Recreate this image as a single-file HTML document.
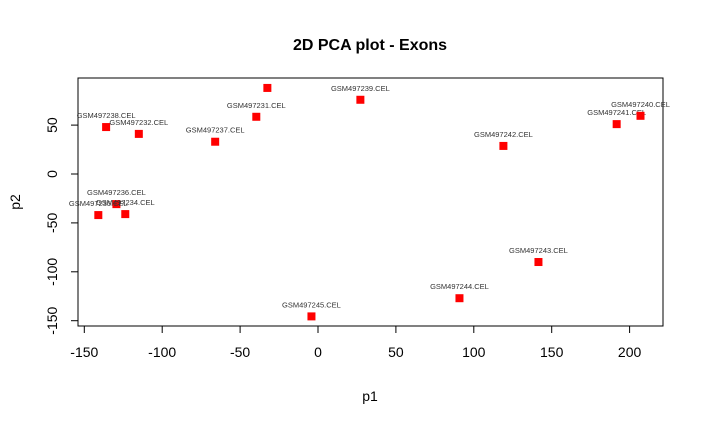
<!DOCTYPE html>
<html><head><meta charset="utf-8"><style>body{margin:0;background:#fff}svg{display:block;font-family:"Liberation Sans",Arial,sans-serif}</style></head>
<body>
<svg id="c" width="704" height="424">
<text x="370" y="50" text-anchor="middle" font-size="16" font-weight="bold">2D PCA plot - Exons</text>
<rect x="78" y="78" width="585" height="248" fill="none" stroke="#000"/>
<text x="370" y="401" text-anchor="middle" font-size="14">p1</text>
<text transform="translate(20,202) rotate(-90)" text-anchor="middle" font-size="14">p2</text>
<g id="g"></g>
</svg>
<script>
const labels=["","GSM497231.CEL","GSM497239.CEL","GSM497238.CEL","GSM497232.CEL","GSM497237.CEL","GSM497242.CEL","GSM497241.CEL","GSM497240.CEL","GSM497236.CEL","GSM497235.CEL","GSM497234.CEL","GSM497243.CEL","GSM497244.CEL","GSM497245.CEL"];
const xs=[-32.5,-39.6,27.2,-136,-115,-66,119,191.7,207,-129.4,-141,-123.7,141.5,90.8,-4.2];
const ys=[88,58.5,75.9,48,41,33,28.7,51,59.5,-30.8,-42,-41,-90,-127,-145.6];
const xTicks=[-150,-100,-50,0,50,100,150,200];
const yTicks=[-150,-100,-50,0,50];
const sx=v=>318+v*1.558, sy=v=>174-v*0.978;
const g=document.getElementById('g'),NS='http://www.w3.org/2000/svg';
function mk(t,a,p){const e=document.createElementNS(NS,t);for(const k in a)e.setAttribute(k,a[k]);(p||g).appendChild(e);return e;}
mk('line',{x1:sx(-150),x2:sx(200),y1:326,y2:326,stroke:'#000'});
xTicks.forEach(v=>{mk('line',{x1:sx(v),x2:sx(v),y1:326,y2:333,stroke:'#000'});
const t=mk('text',{x:sx(v),y:357,'text-anchor':'middle','font-size':14});t.textContent=v;

});
yTicks.forEach(v=>{mk('line',{x1:71,x2:78,y1:sy(v),y2:sy(v),stroke:'#000'});
const t=mk('text',{transform:`translate(57,${sy(v)}) rotate(-90)`,'text-anchor':'middle','font-size':14});t.textContent=v;

});
xs.forEach((x,i)=>{const r=mk('rect',{x:sx(x)-4,y:sy(ys[i])-4,width:8,height:8,fill:'#ff0000'});


if(labels[i]){const t=mk('text',{x:sx(x),y:sy(ys[i])-9,'text-anchor':'middle','font-size':7.5,fill:'#333'});t.textContent=labels[i];

}});
</script>
</body></html>
